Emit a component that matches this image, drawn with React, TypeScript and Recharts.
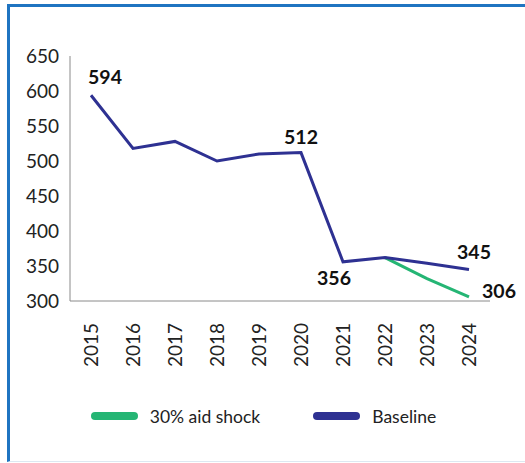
import React from 'react';
import { LineChart, Line, XAxis, YAxis, Legend, LabelList } from 'recharts';

const years = ['2015', '2016', '2017', '2018', '2019', '2020', '2021', '2022', '2023', '2024'];
const baseline = [594, 518, 528, 500, 510, 512, 356, 362, 354, 345];
const aidShock = [null, null, null, null, null, null, null, 362, 332, 306];
const baselineLabels = ['594', '', '', '', '', '512', '356', '', '', '345'];
const shockLabels = ['', '', '', '', '', '', '', '', '', '306'];
const yTicks = [300, 350, 400, 450, 500, 550, 600, 650];

const data = years.map((year, i) => ({
  year,
  baseline: baseline[i],
  shock: aidShock[i],
  baselineLabel: baselineLabels[i],
  shockLabel: shockLabels[i],
}));

const BLUE = '#2E3192';
const GREEN = '#25B574';
const FONT = 'Lato, "Open Sans", sans-serif';

// label nudges relative to the point, by year
const labelOffsets: Record<string, [number, number]> = {
  '2015': [14, -18],
  '2020': [0, -15],
  '2021': [-9, 16],
  '2024b': [5, -17],
  '2024s': [30, -6],
};

const makeLabel = (suffix: string) => (props: any) => {
  const { x, y, value, index } = props;
  if (!value) return null;
  const key = years[index] === '2024' ? '2024' + suffix : years[index];
  const [dx, dy] = labelOffsets[key] || [0, -15];
  return (
    <text
      x={x + dx}
      y={y + dy}
      dy="0.35em"
      textAnchor="middle"
      fontFamily={FONT}
      fontWeight={700}
      fontSize={19.5}
      fill="#111"
    >
      {value}
    </text>
  );
};

const XTick = ({ x, y, payload }: any) => (
  <text
    x={x}
    y={y}
    transform={`rotate(-90, ${x}, ${y})`}
    textAnchor="end"
    dy="0.35em"
    dx={-14}
    fontFamily={FONT}
    fontSize={19}
    fill="#222"
  >
    {payload.value}
  </text>
);

const LegendContent = () => (
  <div
    style={{
      display: 'flex',
      justifyContent: 'center',
      alignItems: 'center',
      gap: 53,
      paddingRight: 8,
      height: 24,
      fontFamily: FONT,
      fontSize: 17.5,
      color: '#222',
    }}
  >
    {[
      { name: '30% aid shock', color: GREEN },
      { name: 'Baseline', color: BLUE },
    ].map((item) => (
      <div key={item.name} style={{ display: 'flex', alignItems: 'center', gap: 12 }}>
        <span style={{ width: 47, height: 8, borderRadius: 4, background: item.color, display: 'inline-block' }} />
        <span>{item.name}</span>
      </div>
    ))}
  </div>
);

export default function App() {
  return (
    <div
      style={{
        position: 'absolute',
        left: 7,
        top: 4,
        width: 518,
        height: 458,
        boxSizing: 'border-box',
        borderLeft: '3px solid #1F74C1',
        borderTop: '3px solid #1F74C1',
        borderBottom: '1px solid #dde8f1',
        background: '#fff',
      }}
    >
      <LineChart width={515} height={431} data={data} margin={{ top: 49, right: 35, left: 0, bottom: 10 }}>
        <XAxis
          dataKey="year"
          height={103}
          tickLine={false}
          axisLine={{ stroke: '#8a8a8a', strokeWidth: 1 }}
          tick={<XTick />}
          interval={0}
          padding={{ left: 21, right: 21 }}
        />
        <YAxis
          width={60}
          domain={[300, 650]}
          ticks={yTicks}
          tickLine={false}
          axisLine={{ stroke: '#8a8a8a', strokeWidth: 1 }}
          tick={{ fontFamily: FONT, fontSize: 19, fill: '#222' }}
          tickMargin={5}
        />
        <Legend verticalAlign="bottom" wrapperStyle={{ left: 0, width: 515 }} content={<LegendContent />} />
        <Line
          dataKey="shock"
          name="30% aid shock"
          stroke={GREEN}
          strokeWidth={3}
          dot={false}
          isAnimationActive={false}
        >
          <LabelList dataKey="shockLabel" content={makeLabel('s')} />
        </Line>
        <Line
          dataKey="baseline"
          name="Baseline"
          stroke={BLUE}
          strokeWidth={3}
          dot={false}
          isAnimationActive={false}
        >
          <LabelList dataKey="baselineLabel" content={makeLabel('b')} />
        </Line>
      </LineChart>
    </div>
  );
}
